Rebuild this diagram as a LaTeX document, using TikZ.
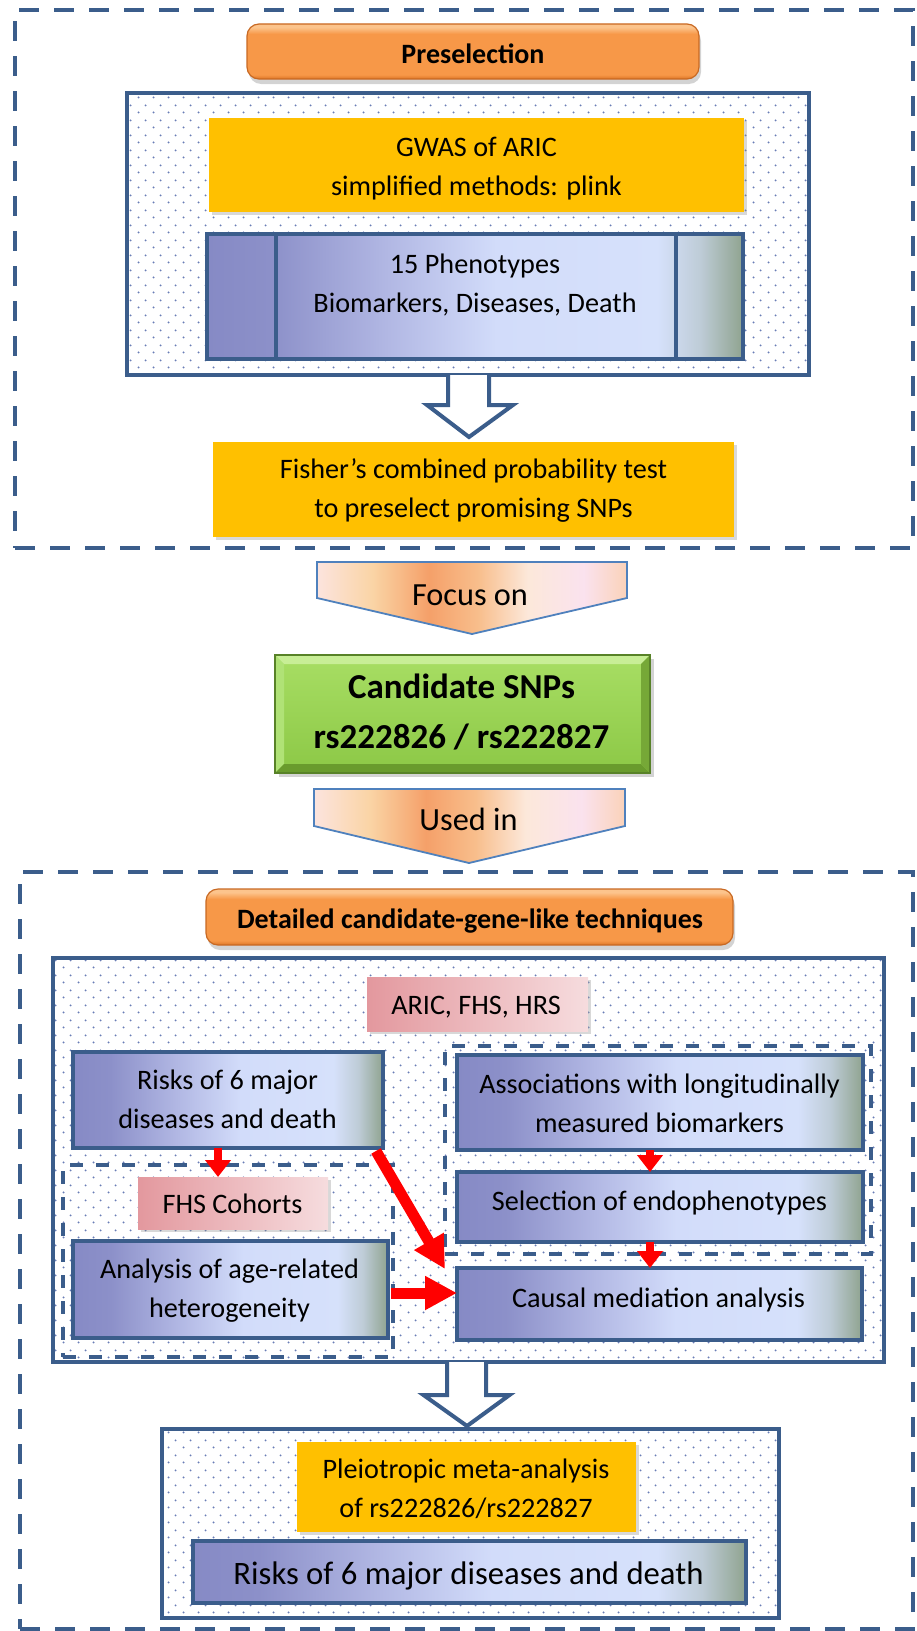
\documentclass[tikz,border=0pt]{standalone}
\usepackage{fontspec}
\setmainfont{Carlito}
\usetikzlibrary{calc,fit,shadows,patterns,arrows.meta}

\definecolor{blueline}{RGB}{59,93,139}
\definecolor{arrowblue}{RGB}{79,129,189}
\definecolor{dotcol}{RGB}{105,125,182}
\definecolor{yel}{RGB}{255,192,0}
\definecolor{pinkL}{RGB}{227,152,158}
\definecolor{pinkR}{RGB}{246,220,222}
\definecolor{orT}{RGB}{252,196,140}
\definecolor{orM}{RGB}{247,152,72}
\definecolor{orB}{RGB}{222,118,38}
\definecolor{orD}{RGB}{200,105,35}
\definecolor{grT}{RGB}{168,222,100}
\definecolor{grB}{RGB}{140,200,70}
\definecolor{grLight}{RGB}{200,238,150}
\definecolor{grSide}{RGB}{176,226,118}
\definecolor{grDark}{RGB}{105,155,45}
\definecolor{grDark2}{RGB}{118,168,55}
\definecolor{grLine}{RGB}{88,130,40}
\definecolor{gA}{RGB}{134,138,197}
\definecolor{gB}{RGB}{140,144,201}
\definecolor{gC}{RGB}{178,184,228}
\definecolor{gD}{RGB}{210,220,250}
\definecolor{gE}{RGB}{214,225,251}
\definecolor{gF}{RGB}{190,204,215}
\definecolor{gG}{RGB}{143,163,143}
\definecolor{pA}{RGB}{252,228,222}
\definecolor{pB}{RGB}{250,212,165}
\definecolor{pC}{RGB}{245,160,105}
\definecolor{pD}{RGB}{248,190,140}
\definecolor{pE}{RGB}{252,232,218}
\definecolor{pF}{RGB}{250,226,238}
\definecolor{pG}{RGB}{250,210,185}

\pgfdeclarehorizontalshading{bluegrad}{100bp}{color(0bp)=(gA); color(25bp)=(gA); color(31bp)=(gB); color(42bp)=(gC); color(52bp)=(gD); color(67bp)=(gE); color(71bp)=(gF); color(75bp)=(gG); color(100bp)=(gG)}
\pgfdeclarehorizontalshading{peach}{100bp}{color(0bp)=(pA); color(25bp)=(pA); color(34bp)=(pB); color(43bp)=(pC); color(51bp)=(pD); color(59bp)=(pE); color(68bp)=(pF); color(75bp)=(pG); color(100bp)=(pG)}
\pgfdeclareverticalshading{orangegrad}{100bp}{color(0bp)=(orB); color(25bp)=(orB); color(29bp)=(orM); color(66bp)=(orM); color(72bp)=(orT); color(75bp)=(orT); color(100bp)=(orT)}

\pgfdeclarepatternformonly{bluedots}{\pgfqpoint{0bp}{0bp}}{\pgfqpoint{15bp}{15bp}}{\pgfqpoint{15bp}{15bp}}{%
  \pgfpathcircle{\pgfqpoint{3.75bp}{3.75bp}}{1.1bp}%
  \pgfpathcircle{\pgfqpoint{11.25bp}{11.25bp}}{1.1bp}%
  \pgfusepath{fill}}

\newcommand{\sstr}{\rule[-0.25em]{0pt}{1em}}

\tikzset{
  box/.style={draw=blueline, line width=4bp, inner sep=0pt, outer sep=0pt},
  dotbox/.style={box, preaction={fill=white}, pattern=bluedots, pattern color=dotcol},
  outerdash/.style={draw=blueline, line width=4.5bp, dash pattern=on 20bp off 15bp, inner sep=0pt, outer sep=0pt},
  innerdash/.style={draw=blueline, line width=3.5bp, dash pattern=on 13bp off 13bp, inner sep=0pt, outer sep=0pt},
  gradbox/.style={box, shade, shading=bluegrad},
  yelbox/.style={inner sep=0pt, outer sep=0pt, fill=yel, drop shadow={opacity=0.3, shadow xshift=3bp, shadow yshift=-3bp}},
  pinkbox/.style={inner sep=0pt, outer sep=0pt, left color=pinkL, right color=pinkR, drop shadow={opacity=0.3, shadow xshift=3bp, shadow yshift=-3bp}},
  orangebox/.style={inner sep=0pt, outer sep=0pt, rounded corners=12bp, draw=orD, line width=1.2bp, shade, shading=orangegrad, drop shadow={opacity=0.35, shadow xshift=2bp, shadow yshift=-5bp}},
  candbox/.style={inner sep=0pt, outer sep=0pt, top color=grT, bottom color=grB, drop shadow={opacity=0.35, shadow xshift=4bp, shadow yshift=-4bp}},
  hollow/.style={draw=blueline, line width=4bp, fill=white, line join=miter},
  peacharrow/.style={draw=arrowblue, line width=1.8bp, shading=peach, line join=miter},
  txt/.style={inner sep=0pt, outer sep=0pt, align=center, text=black, font=\fontsize{28.2bp}{39bp}\selectfont},
  txtb/.style={txt, font=\bfseries\fontsize{28bp}{39bp}\selectfont},
  arrowtxt/.style={txt, font=\fontsize{32.3bp}{39bp}\selectfont},
  smallred/.style={draw=red, line width=7.5bp, -{Triangle[length=17bp,width=25bp]}},
  bigred/.style={draw=red, line width=11bp, -{Triangle[length=32bp,width=32bp]}},
}

\begin{document}
\begin{tikzpicture}[x=1bp,y=-1bp]
\useasboundingbox (0,0) rectangle (916,1631);

% ===== Preselection section =====
\node[outerdash, fit={(15,10)(913,548)}] (dash1) {};
\node[orangebox, fit={(247,24)(699,79)}] (pre) {};
\node[txtb] (preT) at (473,57) {\sstr Preselection};

\node[dotbox, fit={(127,93)(809,375)}] (inner1) {};
\node[yelbox, fit={(209,118)(744,212)}] (gwas) {};
\node[txt] (gwasT) at (476.5,168.5) {\sstr GWAS of ARIC\\\sstr simplified methods: plink};

\node[gradbox, fit={(207,234)(743,359)}] (pheno) {};
\draw[blueline, line width=4bp] ($(pheno.north west)+(69,0)$) -- ($(pheno.south west)+(69,0)$);
\draw[blueline, line width=4bp] ($(pheno.north east)+(-67,0)$) -- ($(pheno.south east)+(-67,0)$);
\node[txt] (phenoT) at (475,285.5) {\sstr 15 Phenotypes\\\sstr Biomarkers, Diseases, Death};

\draw[hollow] ($(inner1.south)+(-20,0)$) -- ($(inner1.south)+(-20,30)$) -- ($(inner1.south)+(-41,30)$)
  -- ($(inner1.south)+(1,62)$) -- ($(inner1.south)+(45,30)$) -- ($(inner1.south)+(21,30)$) -- ($(inner1.south)+(21,0)$);

\node[yelbox, fit={(213,442)(734,537)}] (fisher) {};
\node[txt] (fisherT) at (473.5,490.5) {\sstr Fisher’s combined probability test\\\sstr to preselect promising SNPs};

% ===== Middle =====
\shadedraw[peacharrow] (317,562) -- (627,562) -- (627,598) -- (472,634) -- (317,598) -- cycle;
\node[arrowtxt] (focus) at (470,597) {\sstr Focus on};

\node[candbox, fit={(275,655)(650,773)}] (cand) {};
\fill[grLight] (cand.north west) -- (cand.north east) -- ($(cand.north east)+(-9,9)$) -- ($(cand.north west)+(9,9)$) -- cycle;
\fill[grSide] (cand.north west) -- ($(cand.north west)+(9,9)$) -- ($(cand.south west)+(9,-9)$) -- (cand.south west) -- cycle;
\fill[grDark] (cand.south west) -- ($(cand.south west)+(9,-9)$) -- ($(cand.south east)+(-9,-9)$) -- (cand.south east) -- cycle;
\fill[grDark2] (cand.north east) -- ($(cand.north east)+(-9,9)$) -- ($(cand.south east)+(-9,-9)$) -- (cand.south east) -- cycle;
\draw[grLine, line width=1.5bp] (cand.north west) rectangle (cand.south east);
\node[txt, font=\bfseries\fontsize{35bp}{50bp}\selectfont] (candT) at (461.5,714.3) {\sstr Candidate SNPs\\\sstr rs222826 / rs222827};

\shadedraw[peacharrow] (314,789) -- (625,789) -- (625,826) -- (469,863) -- (314,826) -- cycle;
\node[arrowtxt] (usedin) at (468.5,822) {\sstr Used in};

% ===== Detailed section =====
\node[outerdash, fit={(20,872)(913,1629)}] (dash2) {};
\node[orangebox, fit={(206,889)(733,945)}] (detail) {};
\node[txtb] (detailT) at (470,921) {\sstr Detailed candidate-gene-like techniques};

\node[dotbox, fit={(53,958)(884,1362)}] (inner2) {};
\node[pinkbox, fit={(367,977)(588,1031)}] (aric) {};
\node[txt] (aricT) at (476,1007) {\sstr ARIC, FHS, HRS};

\node[innerdash, fit={(445,1046)(871,1254)}] (rdash) {};
\node[innerdash, fit={(63,1165)(393,1357)}] (ldash) {};

\node[gradbox, fit={(73,1052)(383,1148)}] (risks) {};
\node[txt] (risksT) at (227.5,1102) {\sstr Risks of 6 major\\\sstr diseases and death};

\node[gradbox, fit={(457,1055)(863,1150)}] (assoc) {};
\node[txt] (assocT) at (659.5,1105.5) {\sstr Associations with longitudinally\\\sstr measured biomarkers};

\node[gradbox, fit={(457,1172)(863,1242)}] (sel) {};
\node[txt] (selT) at (659.5,1203) {\sstr Selection of endophenotypes};

\node[gradbox, fit={(457,1268)(862,1340)}] (causal) {};
\node[txt] (causalT) at (658.5,1300) {\sstr Causal mediation analysis};

\node[pinkbox, fit={(138,1177)(328,1229)}] (fhs) {};
\node[txt] (fhsT) at (232.5,1206) {\sstr FHS Cohorts};

\node[gradbox, fit={(73,1241)(388,1338)}] (analysis) {};
\node[txt] (analysisT) at (229.5,1291) {\sstr Analysis of age-related\\\sstr heterogeneity};

% red connectors
\coordinate (a1s) at ($(risks.south)+(-10,0)$);
\draw[smallred] (a1s) -- (a1s |- fhs.north);
\coordinate (a2s) at ($(assoc.south)+(-10,0)$);
\draw[smallred] (a2s) -- (a2s |- sel.north);
\coordinate (a3s) at ($(sel.south)+(-10,0)$);
\draw[smallred] (a3s) -- (a3s |- causal.north);
\draw[bigred] ($(risks.south east)+(-7,3)$) -- ($(causal.north west)+(-12,1)$);
\coordinate (a5s) at ($(analysis.east)+(3,3.5)$);
\draw[bigred] (a5s) -- (a5s -| causal.west);

% hollow arrow to final box
\draw[hollow] ($(inner2.south)+(-21.5,0)$) -- ($(inner2.south)+(-21.5,33)$) -- ($(inner2.south)+(-45,33)$)
  -- ($(inner2.south)+(-1.5,64)$) -- ($(inner2.south)+(41,33)$) -- ($(inner2.south)+(17.5,33)$) -- ($(inner2.south)+(17.5,0)$);

\node[dotbox, fit={(162,1429)(779,1618)}] (final) {};
\node[yelbox, fit={(297,1442)(636,1532)}] (pleio) {};
\node[txt] (pleioT) at (466,1491) {\sstr Pleiotropic meta-analysis\\\sstr of rs222826/rs222827};
\node[gradbox, fit={(193,1541)(746,1603)}] (risks2) {};
\node[txt, font=\fontsize{32.7bp}{39bp}\selectfont] (risks2T) at (468.5,1576) {\sstr Risks of 6 major diseases and death};

\end{tikzpicture}
\end{document}
